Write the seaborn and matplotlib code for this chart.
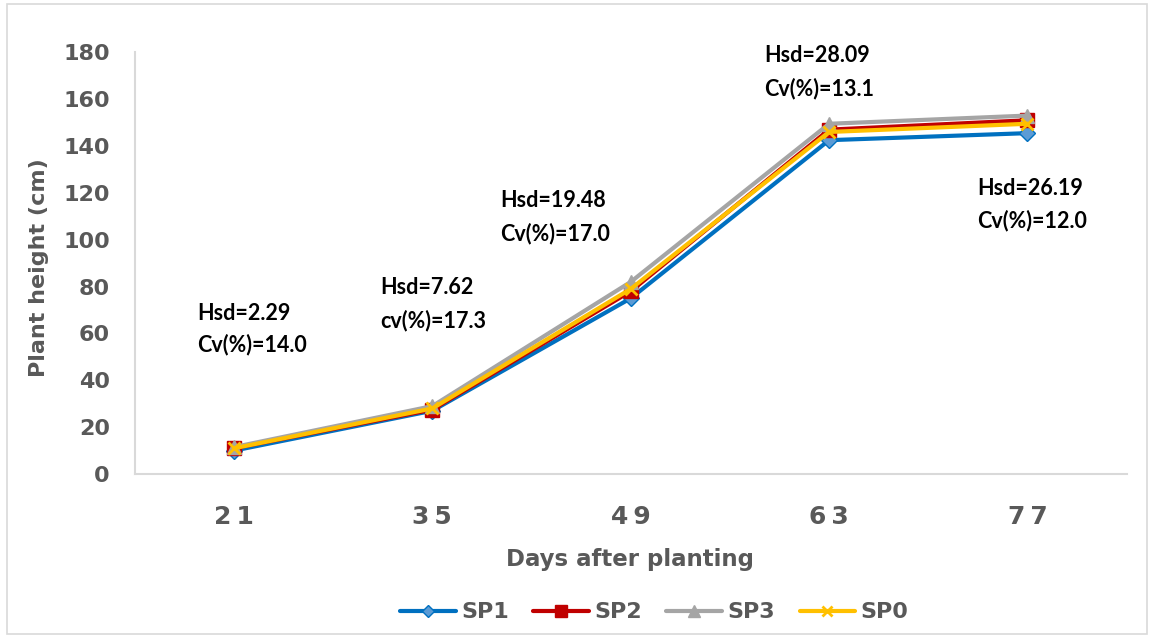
import matplotlib
matplotlib.use("Agg")
import matplotlib.pyplot as plt
import seaborn as sns
import pandas as pd
from matplotlib.patches import Rectangle

days = ["21", "35", "49", "63", "77"]
series_names = ["SP1", "SP2", "SP3", "SP0"]
sp1 = [10.0, 27.0, 75.0, 142.5, 145.5]
sp2 = [11.0, 27.5, 78.0, 147.0, 151.0]
sp3 = [11.5, 29.0, 82.0, 149.5, 153.0]
sp0 = [11.0, 28.0, 79.0, 146.0, 149.5]

ann_line1 = ["Hsd=2.29", "Hsd=7.62", "Hsd=19.48", "Hsd=28.09", "Hsd=26.19"]
ann_line2 = ["Cv(%)=14.0", "cv(%)=17.3", "Cv(%)=17.0", "Cv(%)=13.1", "Cv(%)=12.0"]
ann_x = [-0.186, 0.736, 1.340, 2.675, 3.748]
ann_y1 = [68.7, 79.8, 116.9, 178.8, 122.0]
ann_y2 = [55.1, 65.7, 102.8, 164.7, 108.4]

sns.set_style("white")
plt.rcParams["font.family"] = ["DejaVu Sans"]

colors = {"SP1": "#0070C0", "SP2": "#C00000", "SP3": "#A5A5A5", "SP0": "#FFC000"}
mfc = {"SP1": "#5B9BD5", "SP2": "#C00000", "SP3": "#A5A5A5", "SP0": "#FFC000"}
markers = {"SP1": "D", "SP2": "s", "SP3": "^", "SP0": "x"}
msize = {"SP1": 8, "SP2": 10, "SP3": 10, "SP0": 9}

df = pd.DataFrame({
    "day": days * 4,
    "height": sp1 + sp2 + sp3 + sp0,
    "series": sum([[s] * len(days) for s in series_names], []),
})

fig = plt.figure(figsize=(11.52, 6.38), dpi=100)
ax = fig.add_axes([0.117, 0.257, 0.861, 0.661])

for s in series_names:
    sub = df[df["series"] == s]
    sns.lineplot(data=sub, x="day", y="height", ax=ax, color=colors[s],
                 linewidth=3, marker=markers[s], markersize=msize[s],
                 markerfacecolor=mfc[s], markeredgecolor=colors[s],
                 markeredgewidth=2 if s == "SP0" else 1, label=s, sort=False)

AF = ["Lato", "DejaVu Sans"]
ax.set_ylim(0, 180)
ax.set_xlim(-0.5, 4.5)
ax.set_yticks(range(0, 181, 20))
txtc = "#595959"
ax.tick_params(axis="y", labelsize=16, labelcolor=txtc, length=0, pad=18)
ax.tick_params(axis="x", labelsize=18, labelcolor=txtc, length=0, pad=22)
for lbl in ax.get_yticklabels():
    lbl.set_fontweight("bold")
ax.set_xticks(range(len(days)))
ax.set_xticklabels(["\u2009".join(d) for d in days], fontweight="bold")

ax.set_ylabel("Plant height (cm)", fontsize=16, fontweight="bold", color=txtc)
ax.set_xlabel("Days after planting", fontsize=16.5, fontweight="bold", color=txtc)
ax.yaxis.set_label_coords(-0.086, 0.49)
ax.xaxis.set_label_coords(0.499, -0.175)

for sp in ["top", "right"]:
    ax.spines[sp].set_visible(False)
for sp in ["left", "bottom"]:
    ax.spines[sp].set_color("#D9D9D9")
    ax.spines[sp].set_linewidth(1.5)

for x, t1, t2, y1, y2 in zip(ann_x, ann_line1, ann_line2, ann_y1, ann_y2):
    ax.text(x, y1, t1, ha="left", va="center", fontsize=15.5, fontweight="bold", family=AF, color="black", clip_on=False)
    ax.text(x, y2, t2, ha="left", va="center", fontsize=15.5, fontweight="bold", family=AF, color="black", clip_on=False)

handles, labels = ax.get_legend_handles_labels()
leg = fig.legend(handles, labels, loc="center", bbox_to_anchor=(0.568, 0.04), ncol=4,
                 frameon=False, prop={"weight": "bold", "size": 16}, handlelength=2.5,
                 columnspacing=1.1, handletextpad=0.25, markerscale=0.8)
for t in leg.get_texts():
    t.set_color(txtc)
if ax.get_legend() is not None:
    ax.get_legend().remove()

fig.patches.append(Rectangle((0.006, 0.006), 0.99, 0.988, transform=fig.transFigure,
                             fill=False, edgecolor="#D9D9D9", linewidth=1.2))

fig.savefig("out.png", dpi=100)
